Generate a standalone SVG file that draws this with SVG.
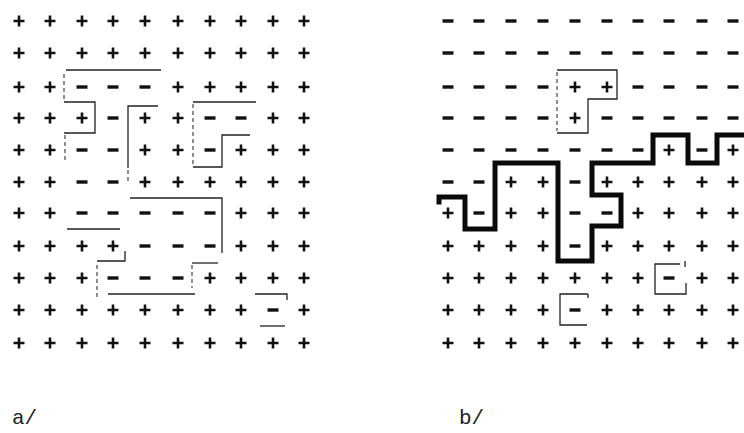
<svg xmlns="http://www.w3.org/2000/svg" xmlns:xlink="http://www.w3.org/1999/xlink" width="744" height="433" viewBox="0 0 744 433">
<defs>
<style>
.p{fill:none;stroke:#111;stroke-width:2.6}
.m{fill:#111}
.thin{fill:none;stroke:#222;stroke-width:1.3}
.dash{fill:none;stroke:#333;stroke-width:1.1;stroke-dasharray:4 3}
.thick{fill:none;stroke:#0a0a0a;stroke-width:5;stroke-linejoin:miter;stroke-linecap:square}
.lbl{font-family:"Liberation Mono","DejaVu Sans Mono",monospace;font-size:21px;fill:#222}
</style>
<path id="P" class="p" d="M-5.5 0H5.5M0-5.5V5.5"/>
<rect id="M" class="m" x="-5.5" y="-1.7" width="11" height="3.4"/>
</defs>
<rect width="744" height="433" fill="#fff"/>
<g id="grid-a">
<use href="#P" x="19" y="21"/><use href="#P" x="50" y="21"/><use href="#P" x="82" y="21"/><use href="#P" x="113" y="21"/><use href="#P" x="145" y="21"/><use href="#P" x="178" y="21"/><use href="#P" x="210" y="21"/><use href="#P" x="241" y="21"/><use href="#P" x="273" y="21"/><use href="#P" x="304" y="21"/>
<use href="#P" x="19" y="53"/><use href="#P" x="50" y="53"/><use href="#P" x="82" y="53"/><use href="#P" x="113" y="53"/><use href="#P" x="145" y="53"/><use href="#P" x="178" y="53"/><use href="#P" x="210" y="53"/><use href="#P" x="241" y="53"/><use href="#P" x="273" y="53"/><use href="#P" x="304" y="53"/>
<use href="#P" x="19" y="87"/><use href="#P" x="50" y="87"/><use href="#M" x="82" y="87"/><use href="#M" x="113" y="87"/><use href="#M" x="145" y="87"/><use href="#P" x="178" y="87"/><use href="#P" x="210" y="87"/><use href="#P" x="241" y="87"/><use href="#P" x="273" y="87"/><use href="#P" x="304" y="87"/>
<use href="#P" x="19" y="118"/><use href="#P" x="50" y="118"/><use href="#P" x="82" y="118"/><use href="#M" x="113" y="118"/><use href="#P" x="145" y="118"/><use href="#P" x="178" y="118"/><use href="#M" x="210" y="118"/><use href="#M" x="241" y="118"/><use href="#P" x="273" y="118"/><use href="#P" x="304" y="118"/>
<use href="#P" x="19" y="150"/><use href="#P" x="50" y="150"/><use href="#M" x="82" y="150"/><use href="#M" x="113" y="150"/><use href="#P" x="145" y="150"/><use href="#P" x="178" y="150"/><use href="#M" x="210" y="150"/><use href="#P" x="241" y="150"/><use href="#P" x="273" y="150"/><use href="#P" x="304" y="150"/>
<use href="#P" x="19" y="182"/><use href="#P" x="50" y="182"/><use href="#M" x="82" y="182"/><use href="#M" x="113" y="182"/><use href="#P" x="145" y="182"/><use href="#P" x="178" y="182"/><use href="#P" x="210" y="182"/><use href="#P" x="241" y="182"/><use href="#P" x="273" y="182"/><use href="#P" x="304" y="182"/>
<use href="#P" x="19" y="213"/><use href="#P" x="50" y="213"/><use href="#M" x="82" y="213"/><use href="#M" x="113" y="213"/><use href="#M" x="145" y="213"/><use href="#M" x="178" y="213"/><use href="#M" x="210" y="213"/><use href="#P" x="241" y="213"/><use href="#P" x="273" y="213"/><use href="#P" x="304" y="213"/>
<use href="#P" x="19" y="246"/><use href="#P" x="50" y="246"/><use href="#P" x="82" y="246"/><use href="#P" x="113" y="246"/><use href="#M" x="145" y="246"/><use href="#M" x="178" y="246"/><use href="#M" x="210" y="246"/><use href="#P" x="241" y="246"/><use href="#P" x="273" y="246"/><use href="#P" x="304" y="246"/>
<use href="#P" x="19" y="278"/><use href="#P" x="50" y="278"/><use href="#P" x="82" y="278"/><use href="#M" x="113" y="278"/><use href="#M" x="145" y="278"/><use href="#M" x="178" y="278"/><use href="#P" x="210" y="278"/><use href="#P" x="241" y="278"/><use href="#P" x="273" y="278"/><use href="#P" x="304" y="278"/>
<use href="#P" x="19" y="310"/><use href="#P" x="50" y="310"/><use href="#P" x="82" y="310"/><use href="#P" x="113" y="310"/><use href="#P" x="145" y="310"/><use href="#P" x="178" y="310"/><use href="#P" x="210" y="310"/><use href="#P" x="241" y="310"/><use href="#M" x="273" y="310"/><use href="#P" x="304" y="310"/>
<use href="#P" x="19" y="343"/><use href="#P" x="50" y="343"/><use href="#P" x="82" y="343"/><use href="#P" x="113" y="343"/><use href="#P" x="145" y="343"/><use href="#P" x="178" y="343"/><use href="#P" x="210" y="343"/><use href="#P" x="241" y="343"/><use href="#P" x="273" y="343"/><use href="#P" x="304" y="343"/>
</g>
<g id="lines-a">
<path class="thin" d="M66 70H161"/>
<path class="dash" d="M64 74V102"/>
<path class="thin" d="M64 102H95V133H64"/>
<path class="dash" d="M65 135V162"/>
<path class="thin" d="M158 106H128V168"/>
<path class="dash" d="M128 170V184"/>
<path class="thin" d="M193 102H256"/>
<path class="dash" d="M193 104V167"/>
<path class="thin" d="M193 167H222V135H250"/>
<path class="thin" d="M130 198H222V253"/>
<path class="thin" d="M218 263H192"/>
<path class="dash" d="M192 265V288"/>
<path class="thin" d="M108 294H195"/>
<path class="dash" d="M97 297V262"/>
<path class="thin" d="M97 261H125V251"/>
<path class="thin" d="M67 229H120"/>
<path class="thin" d="M255 294H287V300"/>
<path class="thin" d="M260 326H285"/>
</g>
<g id="grid-b">
<use href="#M" x="448" y="21"/><use href="#M" x="479" y="21"/><use href="#M" x="511" y="21"/><use href="#M" x="543" y="21"/><use href="#M" x="575" y="21"/><use href="#M" x="607" y="21"/><use href="#M" x="638" y="21"/><use href="#M" x="669" y="21"/><use href="#M" x="702" y="21"/><use href="#M" x="733" y="21"/>
<use href="#M" x="448" y="53"/><use href="#M" x="479" y="53"/><use href="#M" x="511" y="53"/><use href="#M" x="543" y="53"/><use href="#M" x="575" y="53"/><use href="#M" x="607" y="53"/><use href="#M" x="638" y="53"/><use href="#M" x="669" y="53"/><use href="#M" x="702" y="53"/><use href="#M" x="733" y="53"/>
<use href="#M" x="448" y="87"/><use href="#M" x="479" y="87"/><use href="#M" x="511" y="87"/><use href="#M" x="543" y="87"/><use href="#P" x="575" y="87"/><use href="#P" x="607" y="87"/><use href="#M" x="638" y="87"/><use href="#M" x="669" y="87"/><use href="#M" x="702" y="87"/><use href="#M" x="733" y="87"/>
<use href="#M" x="448" y="118"/><use href="#M" x="479" y="118"/><use href="#M" x="511" y="118"/><use href="#M" x="543" y="118"/><use href="#P" x="575" y="118"/><use href="#M" x="607" y="118"/><use href="#M" x="638" y="118"/><use href="#M" x="669" y="118"/><use href="#M" x="702" y="118"/><use href="#M" x="733" y="118"/>
<use href="#M" x="448" y="150"/><use href="#M" x="479" y="150"/><use href="#M" x="511" y="150"/><use href="#M" x="543" y="150"/><use href="#M" x="575" y="150"/><use href="#M" x="607" y="150"/><use href="#M" x="638" y="150"/><use href="#P" x="669" y="150"/><use href="#M" x="702" y="150"/><use href="#P" x="733" y="150"/>
<use href="#M" x="448" y="182"/><use href="#M" x="479" y="182"/><use href="#P" x="511" y="182"/><use href="#P" x="543" y="182"/><use href="#M" x="575" y="182"/><use href="#P" x="607" y="182"/><use href="#P" x="638" y="182"/><use href="#P" x="669" y="182"/><use href="#P" x="702" y="182"/><use href="#P" x="733" y="182"/>
<use href="#P" x="448" y="213"/><use href="#M" x="479" y="213"/><use href="#P" x="511" y="213"/><use href="#P" x="543" y="213"/><use href="#M" x="575" y="213"/><use href="#M" x="607" y="213"/><use href="#P" x="638" y="213"/><use href="#P" x="669" y="213"/><use href="#P" x="702" y="213"/><use href="#P" x="733" y="213"/>
<use href="#P" x="448" y="246"/><use href="#P" x="479" y="246"/><use href="#P" x="511" y="246"/><use href="#P" x="543" y="246"/><use href="#M" x="575" y="246"/><use href="#P" x="607" y="246"/><use href="#P" x="638" y="246"/><use href="#P" x="669" y="246"/><use href="#P" x="702" y="246"/><use href="#P" x="733" y="246"/>
<use href="#P" x="448" y="278"/><use href="#P" x="479" y="278"/><use href="#P" x="511" y="278"/><use href="#P" x="543" y="278"/><use href="#P" x="575" y="278"/><use href="#P" x="607" y="278"/><use href="#P" x="638" y="278"/><use href="#M" x="669" y="278"/><use href="#P" x="702" y="278"/><use href="#P" x="733" y="278"/>
<use href="#P" x="448" y="310"/><use href="#P" x="479" y="310"/><use href="#P" x="511" y="310"/><use href="#P" x="543" y="310"/><use href="#M" x="575" y="310"/><use href="#P" x="607" y="310"/><use href="#P" x="638" y="310"/><use href="#P" x="669" y="310"/><use href="#P" x="702" y="310"/><use href="#P" x="733" y="310"/>
<use href="#P" x="448" y="343"/><use href="#P" x="479" y="343"/><use href="#P" x="511" y="343"/><use href="#P" x="543" y="343"/><use href="#P" x="575" y="343"/><use href="#P" x="607" y="343"/><use href="#P" x="638" y="343"/><use href="#P" x="669" y="343"/><use href="#P" x="702" y="343"/><use href="#P" x="733" y="343"/>
</g>
<g id="lines-b">
<path class="thin" d="M557 70H617V99H588V133H557"/>
<path class="dash" d="M557 72V131"/>
<path class="thin" d="M588 294H560V325H587"/>
<path class="thin" d="M588 294V298"/>
<path class="thin" d="M680 264H655V294H686V283"/>
<path class="thin" d="M685 261V267"/>
<path class="thick" d="M439 202V197H465V229H495V163H558V261H592V226H621V195H592V163H653V135H688V163H717V135H744"/>
</g>
<g id="labels">
<text class="lbl" x="12" y="424">a/</text>
<text class="lbl" x="459" y="424">b/</text>
</g>
</svg>
